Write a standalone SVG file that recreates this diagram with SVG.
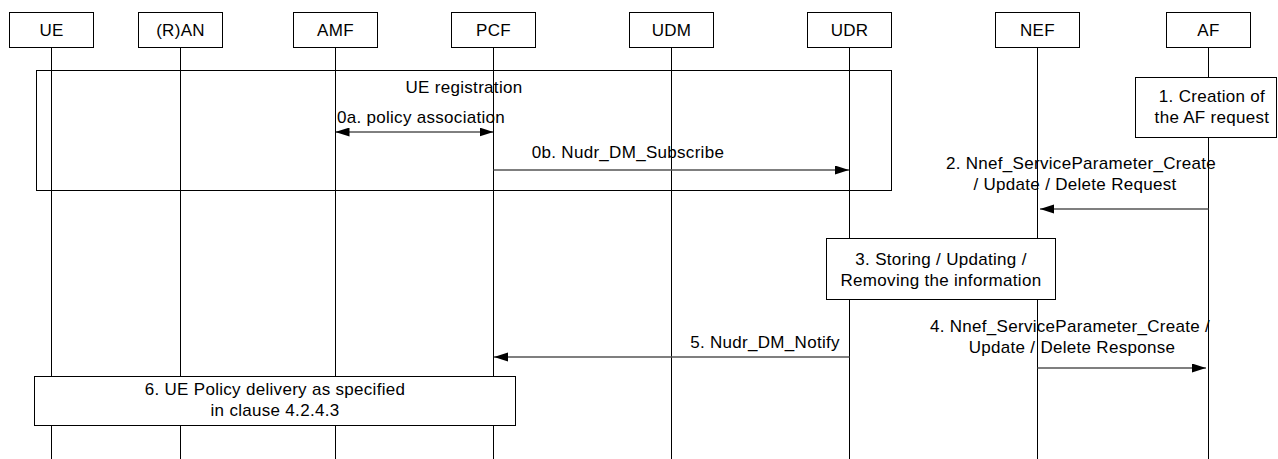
<svg xmlns="http://www.w3.org/2000/svg" width="1278" height="459" viewBox="0 0 1278 459">
<style>
text{font-family:"Liberation Sans",Arial,sans-serif;font-size:17px;fill:#000;letter-spacing:0.3px}
.c{text-anchor:middle}
.box{fill:#fff;stroke:#000;stroke-width:1}
.frame{fill:none;stroke:#000;stroke-width:1}
.life{stroke:#000;stroke-width:1}
.msg{stroke:#555;stroke-width:1.5;fill:none}
.msg0{stroke:#000;stroke-width:1;fill:none}
</style>
<defs>
<marker id="ah" markerUnits="userSpaceOnUse" markerWidth="14" markerHeight="10" refX="14" refY="4.5" orient="auto">
<path d="M0,0 L14,4.5 L0,9 z" fill="#000"/>
</marker>
<marker id="ahs" markerUnits="userSpaceOnUse" markerWidth="14" markerHeight="10" refX="0" refY="4.5" orient="auto">
<path d="M14,0 L0,4.5 L14,9 z" fill="#000"/>
</marker>
</defs>
<g id="lifelines">
<line class="life" x1="51.5" y1="47" x2="51.5" y2="459"/>
<line class="life" x1="180.5" y1="47" x2="180.5" y2="459"/>
<line class="life" x1="335.5" y1="47" x2="335.5" y2="459"/>
<line class="life" x1="493.5" y1="47" x2="493.5" y2="459"/>
<line class="life" x1="671.5" y1="47" x2="671.5" y2="459"/>
<line class="life" x1="849.5" y1="47" x2="849.5" y2="459"/>
<line class="life" x1="1037.5" y1="47" x2="1037.5" y2="459"/>
<line class="life" x1="1208.5" y1="47" x2="1208.5" y2="459"/>
</g>
<g id="UE"><rect class="box" x="9.5" y="12.5" width="84" height="35"/><text class="c" x="51.5" y="36">UE</text></g>
<g id="RAN"><rect class="box" x="138.5" y="12.5" width="84" height="35"/><text class="c" x="180.5" y="36">(R)AN</text></g>
<g id="AMF"><rect class="box" x="293.5" y="12.5" width="84" height="35"/><text class="c" x="335.5" y="36">AMF</text></g>
<g id="PCF"><rect class="box" x="451.5" y="12.5" width="84" height="35"/><text class="c" x="493.5" y="36">PCF</text></g>
<g id="UDM"><rect class="box" x="629.5" y="12.5" width="84" height="35"/><text class="c" x="671.5" y="36">UDM</text></g>
<g id="UDR"><rect class="box" x="807.5" y="12.5" width="84" height="35"/><text class="c" x="849.5" y="36">UDR</text></g>
<g id="NEF"><rect class="box" x="995.5" y="12.5" width="84" height="35"/><text class="c" x="1037.5" y="36">NEF</text></g>
<g id="AF"><rect class="box" x="1166.5" y="12.5" width="84" height="35"/><text class="c" x="1208.5" y="36">AF</text></g>
<g id="registration">
<rect class="frame" x="36.5" y="70.5" width="855" height="120"/>
<text class="c" x="464" y="93">UE registration</text>
</g>
<g id="step1"><rect class="box" x="1135.5" y="77.5" width="141" height="60"/>
<text class="c" x="1212" y="102">1. Creation of</text><text class="c" x="1212" y="123">the AF request</text></g>
<g id="step3"><rect class="box" x="826.5" y="238.5" width="229" height="61"/>
<text class="c" x="941" y="265">3. Storing / Updating /</text><text class="c" x="941" y="286">Removing the information</text></g>
<g id="step6"><rect class="box" x="34.5" y="376.5" width="481" height="49"/>
<text class="c" x="275" y="395">6. UE Policy delivery as specified</text><text class="c" x="275" y="416">in clause 4.2.4.3</text></g>
<g id="connectors">
<line class="msg0" x1="335.5" y1="132" x2="493.5" y2="132" marker-start="url(#ahs)" marker-end="url(#ah)"/>
<text class="c" x="421" y="123">0a. policy association</text>
<line class="msg" x1="493.5" y1="170" x2="849" y2="170" marker-end="url(#ah)"/>
<text class="c" x="628" y="158">0b. Nudr_DM_Subscribe</text>
<line class="msg" x1="1208.5" y1="209" x2="1040" y2="209" marker-end="url(#ah)"/>
<text class="c" x="1081" y="169">2. Nnef_ServiceParameter_Create</text>
<text class="c" x="1075" y="190">/ Update / Delete Request</text>
<line class="msg" x1="1037.5" y1="368" x2="1206" y2="368" marker-end="url(#ah)"/>
<text class="c" x="1070" y="332">4. Nnef_ServiceParameter_Create /</text>
<text class="c" x="1072" y="353">Update / Delete Response</text>
<line class="msg" x1="849.5" y1="357" x2="494" y2="357" marker-end="url(#ah)"/>
<text class="c" x="765" y="348">5. Nudr_DM_Notify</text>
</g>
</svg>
